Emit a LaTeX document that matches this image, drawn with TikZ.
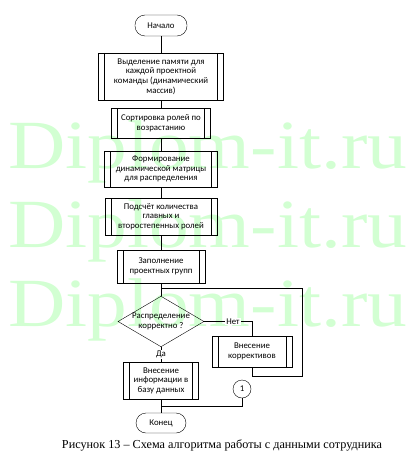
\documentclass[tikz,border=0pt]{standalone}
\usepackage{fontspec}
\setmainfont{Carlito}
\newfontfamily\capfont{Liberation Serif}
\usetikzlibrary{shapes.geometric}
\definecolor{wm}{RGB}{210,255,210}
\begin{document}
\begin{tikzpicture}[x=1pt,y=-1pt,
  every node/.style={font=\fontsize{8.8}{9.6}\selectfont, align=center, inner sep=1pt},
  term/.style={draw, rectangle, rounded corners=10pt, minimum height=21pt},
  proc/.style={draw, rectangle, path picture={
      \draw ([xshift=6pt]path picture bounding box.north west) -- ([xshift=6pt]path picture bounding box.south west);
      \draw ([xshift=-6pt]path picture bounding box.north east) -- ([xshift=-6pt]path picture bounding box.south east);}},
  dec/.style={draw, diamond, aspect=1.7, inner sep=0pt},
  conn/.style={draw, circle, minimum size=18pt, inner sep=0pt},
  lbl/.style={fill=white, inner sep=1pt},
  wmark/.style={text=wm, font=\capfont\fontsize{69}{69}\selectfont, anchor=base west, inner sep=0pt, xscale=1.15}
]
\useasboundingbox (0,0) rectangle (418,460);
% watermark
\node[wmark] (w1) at (8,168) {Diplom-it.ru};
\node[wmark] (w2) at (8,247) {Diplom-it.ru};
\node[wmark] (w3) at (8,326) {Diplom-it.ru};

\node[term, minimum width=52pt] (start) at (161,25.5) {Начало};
\node[proc, minimum width=125pt, minimum height=47pt] (b1) at (161,76.5) {Выделение памяти для\\каждой проектной\\команды (динамический\\массив)};
\node[proc, minimum width=99pt, minimum height=30pt] (b2) at (161,123) {Сортировка ролей по\\возрастанию};
\node[proc, minimum width=113pt, minimum height=36pt] (b3) at (161,169) {Формирование\\динамической матрицы\\для распределения};
\node[proc, minimum width=112pt, minimum height=37pt] (b4) at (161,216.5) {Подсчёт количества\\главных и\\второстепенных ролей};
\node[proc, minimum width=88pt, minimum height=33pt] (b5) at (161,266.5) {Заполнение\\проектных групп};
\node[dec, minimum width=83pt, minimum height=49pt] (d) at (161,321.5) {Распределение\\корректно ?};
\node[proc, minimum width=80pt, minimum height=31pt] (b6) at (252,351.5) {Внесение\\коррективов};
\node[proc, minimum width=75pt, minimum height=37pt] (b7) at (161,380.5) {Внесение\\информации в\\базу данных};
\node[conn] (c1) at (242,389) {1};
\node[term, minimum width=50pt, minimum height=20pt] (end) at (161,423) {Конец};

\coordinate (j1) at (161,288);
\coordinate (j2) at (161,406);

\draw (start) -- (b1);
\draw (b1) -- (b2);
\draw (b2) -- (b3);
\draw (b3) -- (b4);
\draw (b4) -- (b5);
\draw (b5) -- (d);
\draw (d) -- node[lbl] (yes) {Да} (b7);
\draw (b7) -- (end);
\draw (d.east) -- node[lbl, pos=0.6] (no) {Нет} (d.east -| b6) -- (b6.north);
\draw (b6.south) -- ++(0,9) -| (302,288) -- (j1);
\draw (c1.south) |- (j2);

\node[font=\capfont\fontsize{12.2}{14}\selectfont] (cap) at (222,445) {Рисунок 13 – Схема алгоритма работы с данными сотрудника};
\end{tikzpicture}
\end{document}
